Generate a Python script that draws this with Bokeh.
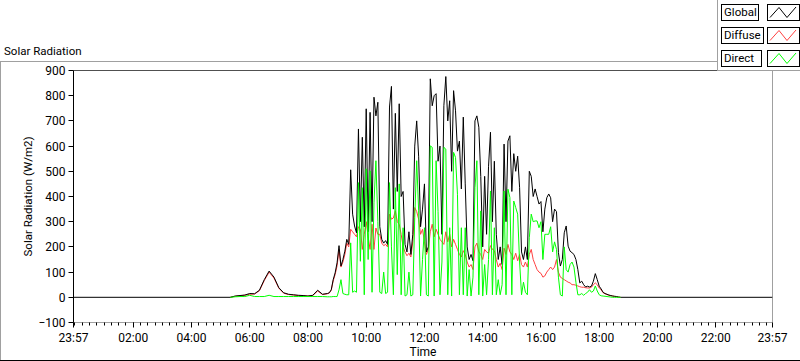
import numpy as np
from bokeh.plotting import figure
from bokeh.layouts import column
from bokeh.models import FixedTicker, Range1d, Span, Div
from bokeh.embed import file_html
from bokeh.resources import INLINE

# ---- data (minutes since midnight; the day starts at 23:57) ----
x_start, x_end = -3, 1437
early_minutes = list(range(320, 520, 10))
main_minutes = list(range(520, 1128, 4))

global_early = [0, 5, 7, 9, 15, 14, 28, 70, 104, 80, 38, 18, 12, 10, 8, 7, 5, 8, 28, 12]
diffuse_early = [0, 4, 6, 8, 12, 13, 26, 66, 100, 76, 36, 16, 11, 9, 7, 6, 5, 7, 25, 11]
direct_early = [0, 2, 3, 3, 8, 3, 3, 3, 8, 3, 3, 3, 3, 3, 3, 3, 3, 3, 3, 3]

global_main = [15, 18, 30, 70, 97, 137, 205, 124, 150, 183, 230, 210, 506, 330, 283, 256,
               668, 300, 635, 280, 748, 260, 734, 300, 794, 720, 774, 280, 230, 215, 225, 210,
               755, 837, 350, 730, 420, 768, 400, 420, 210, 180, 260, 170, 250, 600, 700, 560,
               280, 350, 450, 180, 200, 867, 760, 800, 808, 540, 600, 250, 760, 876, 700, 780,
               500, 820, 740, 580, 620, 430, 715, 450, 200, 150, 170, 145, 700, 720, 675, 480,
               200, 480, 250, 520, 655, 300, 540, 250, 150, 200, 130, 608, 300, 620, 641, 420,
               570, 500, 560, 435, 180, 150, 200, 150, 500, 480, 400, 430, 400, 370, 380, 260,
               350, 395, 410, 395,
               300, 350, 340, 177, 124, 150, 256, 283, 203, 183, 177, 170, 150, 110, 57, 64,
               50, 41, 44, 41, 44, 64, 94, 70, 44, 33, 20, 15, 12, 9, 7, 5, 4, 3, 1, 0]
diffuse_main = [14, 17, 28, 65, 90, 125, 190, 120, 140, 170, 215, 200, 270, 260, 250, 240,
                280, 270, 190, 250, 300, 240, 190, 290, 190, 275, 250, 250, 215, 205, 210, 200,
                330, 310, 315, 343, 300, 290, 250, 200, 180, 165, 175, 160, 220, 356, 340, 310,
                250, 270, 220, 170, 190, 260, 290, 240, 270, 250, 230, 220, 210, 260, 220, 250,
                200, 230, 210, 190, 170, 160, 185, 170, 140, 120, 130, 110, 200, 215, 180, 170,
                150, 190, 180, 175, 205, 190, 185, 150, 120, 135, 110, 195, 170, 210, 180, 170,
                150, 175, 145, 170, 130, 120, 140, 120, 170, 190, 150, 130, 110, 100, 95, 80,
                85, 100, 110, 120,
                110, 120, 150, 100, 80, 75, 70, 65, 60, 57, 50, 50, 48, 45, 42, 40,
                40, 38, 37, 37, 40, 50, 57, 50, 37, 30, 18, 14, 11, 8, 6, 5, 3, 2, 1, 0]
direct_main = [2, 2, 2, 3, 3, 3, 30, 70, 15, 12, 10, 10, 216, 20, 25, 20,
               455, 143, 435, 10, 510, 150, 502, 20, 375, 542, 300, 20, 15, 100, 15, 20,
               455, 200, 10, 435, 90, 450, 10, 276, 5, 10, 100, 5, 10, 316, 542, 343,
               5, 150, 276, 10, 5, 601, 595, 5, 542, 340, 10, 140, 595, 588, 10, 276,
               5, 575, 555, 409, 10, 276, 10, 276, 5, 110, 5, 80, 435, 542, 10, 343,
               5, 130, 10, 150, 422, 10, 276, 10, 70, 10, 50, 422, 10, 429, 396, 10,
               382, 356, 330, 140, 10, 60, 20, 10, 236, 330, 300, 303, 303, 276, 300, 150,
               250, 250, 250, 280,
               180, 220, 190, 80, 10, 5, 200, 110, 100, 130, 140, 120, 60, 10, 10, 15,
               8, 15, 20, 30, 20, 25, 45, 25, 10, 6, 5, 4, 3, 2, 1, 0, 0, 0, 0, 0]

x_tick_values = [-3, 120, 240, 360, 480, 600, 720, 840, 960, 1080, 1200, 1320, 1437]
x_tick_labels = ["23:57", "02:00", "04:00", "06:00", "08:00", "10:00", "12:00",
                 "14:00", "16:00", "18:00", "20:00", "22:00", "23:57"]
y_tick_values = list(range(-100, 901, 100))
series_names = ["Global", "Diffuse", "Direct"]
series_colors = ["#000000", "#FF4040", "#00FF00"]

FONT = "Roboto"
GRAY = "#A0A0A0"

t_active = early_minutes + main_minutes
t_global = [x_start] + t_active + [x_end]
v_global = [0] + global_early + global_main + [0]
v_diffuse = diffuse_early + diffuse_main
v_direct = direct_early + direct_main

W = 800
HEAD_H = 64
MAIN_H = 361 - HEAD_H

# ---------------- header: title, legend and outer frame lines (HTML) ----------------
parts = []
parts.append('<div style="position:absolute;left:4px;top:44px;line-height:14px;white-space:nowrap;">Solar Radiation</div>')
parts.append(f'<div style="position:absolute;left:0;top:61px;width:717px;height:0;border-top:1px solid {GRAY};"></div>')
parts.append(f'<div style="position:absolute;left:0;top:61px;width:0;height:300px;border-left:1px solid {GRAY};"></div>')
parts.append('<div style="position:absolute;left:0;top:360px;width:800px;height:0;border-top:1px solid #000;"></div>')
# legend panel
parts.append(f'<div style="position:absolute;left:717px;top:0;width:83px;height:71px;background:#fff;'
             f'border-left:1px solid {GRAY};border-bottom:1px solid {GRAY};box-sizing:border-box;"></div>')
row_tops = [4, 27, 50]
label_widths = [38, 43, 41]
for name, col, rt, lw in zip(series_names, series_colors, row_tops, label_widths):
    parts.append(f'<div style="position:absolute;left:721px;top:{rt}px;width:{lw}px;height:17px;'
                 f'border:1px solid #000;box-sizing:border-box;background:#fff;padding-left:2px;'
                 f'font-size:11.5px;line-height:15px;white-space:nowrap;overflow:visible;">{name}</div>')
    parts.append(f'<svg style="position:absolute;left:767px;top:{rt}px;" width="33" height="17">'
                 f'<rect x="0.5" y="0.5" width="32" height="16" fill="#fff" stroke="#000" stroke-width="1"/>'
                 f'<polyline points="3,13.5 12,3.5 20,13.5 29,3" fill="none" stroke="{col}" stroke-width="1"/>'
                 f'</svg>')
html = (f'<div style="position:relative;width:{W}px;height:{HEAD_H}px;font-family:\'{FONT}\';'
        f'font-size:11.5px;color:#000;margin:0;padding:0;">' + "".join(parts) + '</div>')
head = Div(text=html, width=W, height=HEAD_H, margin=0,
           styles={"position": "relative", "z-index": "10", "overflow": "visible"})

# ---------------- main chart ----------------
FL, FR = 73, 772
FT = 70 - HEAD_H          # frame top inside main canvas
FB = 322 - HEAD_H         # frame bottom inside main canvas
p = figure(width=W, height=MAIN_H, x_range=Range1d(x_start, x_end), y_range=Range1d(-100, 900),
           output_backend="svg", toolbar_location=None, margin=0,
           min_border_left=FL, min_border_right=W - FR, min_border_top=FT,
           min_border_bottom=MAIN_H - FB)
p.xgrid.visible = False
p.ygrid.visible = False
p.outline_line_color = GRAY
p.background_fill_color = "white"
p.border_fill_color = "white"

p.line(t_active, v_diffuse, color=series_colors[1], line_width=1)
p.line(t_global, v_global, color=series_colors[0], line_width=1)
p.line(t_active, v_direct, color=series_colors[2], line_width=1)
p.add_layout(Span(location=900, dimension="width", line_color="black", line_width=1))

xa = p.xaxis[0]
xa.ticker = FixedTicker(ticks=x_tick_values, minor_ticks=list(range(0, 1440, 15)))
xa.major_label_overrides = {v: s for v, s in zip(x_tick_values, x_tick_labels)}
xa.axis_line_color = GRAY
xa.major_tick_line_color = "black"
xa.minor_tick_line_color = "black"
xa.major_tick_out = 5
xa.major_tick_in = 0
xa.minor_tick_out = 3
xa.minor_tick_in = 0
xa.major_label_standoff = 3
xa.major_label_text_font = FONT
xa.major_label_text_font_size = "12px"
xa.major_label_text_color = "black"
xa.axis_label = "Time"
xa.axis_label_text_font = FONT
xa.axis_label_text_font_size = "12px"
xa.axis_label_text_font_style = "normal"
xa.axis_label_text_color = "black"
xa.axis_label_standoff = -3

ya = p.yaxis[0]
ya.ticker = FixedTicker(ticks=y_tick_values, minor_ticks=[])
ya.axis_line_color = "black"
ya.major_tick_line_color = "black"
ya.major_tick_out = 5
ya.major_tick_in = 0
ya.major_label_standoff = 3
ya.major_label_text_font = FONT
ya.major_label_text_font_size = "12px"
ya.major_label_text_color = "black"
ya.axis_label = "Solar Radiation (W/m2)"
ya.axis_label_text_font = FONT
ya.axis_label_text_font_size = "11.5px"
ya.axis_label_text_font_style = "normal"
ya.axis_label_text_color = "black"
ya.axis_label_standoff = 0

layout = column(head, p, spacing=0, margin=0)
open("out.html", "w").write(file_html(layout, INLINE))
